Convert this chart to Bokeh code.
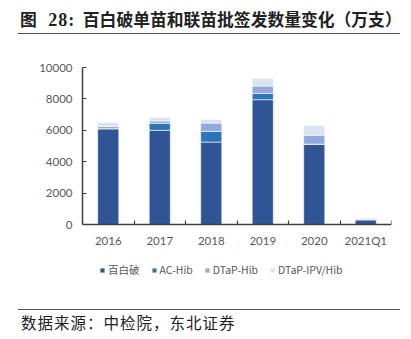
from bokeh.plotting import figure
from bokeh.models import (Range1d, FixedTicker, NumeralTickFormatter, Legend,
                          LegendItem, Div, ColumnDataSource)
from bokeh.layouts import column
from bokeh.embed import file_html
from bokeh.resources import INLINE

# ---- data ----
categories = ["2016", "2017", "2018", "2019", "2020", "2021Q1"]
series_names = ["百白破", "AC-Hib", "DTaP-Hib", "DTaP-IPV/Hib"]
baibaipo = [6100, 6000, 5250, 7950, 5120, 290]
ac_hib = [0, 450, 680, 400, 0, 30]
dtap_hib = [150, 150, 530, 470, 570, 50]
dtap_ipv_hib = [250, 230, 230, 490, 620, 60]
y_ticks = [0, 2000, 4000, 6000, 8000, 10000]

colors = ["#2F5597", "#2E75B6", "#8FAADC", "#DAE3F3"]
keys = ["s0", "s1", "s2", "s3"]

xpos = [i + 0.5 for i in range(len(categories))]
src = ColumnDataSource(dict(x=xpos, s0=baibaipo, s1=ac_hib, s2=dtap_hib, s3=dtap_ipv_hib))

# frame: 157 px for 0..10000, extra room below 0 for labels and legend
frame_h = 228
y_top = 10000
y_bottom = -(frame_h / 157.0 * y_top - y_top)

p = figure(width=411, height=264, output_backend="svg", toolbar_location=None,
           x_range=Range1d(0, len(categories)), y_range=Range1d(y_bottom, y_top),
           min_border_left=82, min_border_right=20, min_border_top=31, min_border_bottom=5)
p.outline_line_color = None
p.xgrid.visible = False
p.ygrid.visible = False

rs = p.vbar_stack(keys, x="x", width=0.41, source=src, color=colors,
                  line_color="white", line_width=0.6)

axis_color = "#404040"
lab_color = "#595959"

# x axis: sits at y=0, labels at centres, small ticks at category boundaries
xa = p.xaxis[0]
xa.fixed_location = 0
xa.ticker = FixedTicker(ticks=xpos, minor_ticks=list(range(len(categories) + 1)))
xa.major_label_overrides = {x: c for x, c in zip(xpos, categories)}
xa.major_tick_in = 0
xa.major_tick_out = 0
xa.minor_tick_in = 4
xa.minor_tick_out = 0
xa.minor_tick_line_color = axis_color
xa.minor_tick_line_width = 1.2
xa.axis_line_color = axis_color
xa.axis_line_width = 1.5
xa.major_label_text_color = lab_color
xa.major_label_text_font = "Lato"
xa.major_label_text_font_size = "11.5px"
xa.major_label_standoff = 9

ya = p.yaxis[0]
ya.bounds = (0, y_top)
ya.ticker = FixedTicker(ticks=y_ticks)
ya.formatter = NumeralTickFormatter(format="0")
ya.major_tick_in = 4
ya.major_tick_out = 0
ya.minor_tick_line_color = None
ya.major_tick_line_color = axis_color
ya.major_tick_line_width = 1.2
ya.axis_line_color = axis_color
ya.axis_line_width = 1.5
ya.major_label_text_color = lab_color
ya.major_label_text_font = "Lato"
ya.major_label_text_font_size = "11.5px"
ya.major_label_standoff = 10

legend = Legend(items=[LegendItem(label=n, renderers=[r]) for n, r in zip(series_names, rs)],
                orientation="horizontal", location=(17, 18),
                glyph_width=6, glyph_height=6, label_height=12, label_standoff=3,
                spacing=11, padding=0, margin=0, border_line_color=None,
                background_fill_alpha=0, label_text_font="Noto Sans CJK SC",
                label_text_font_size="10.5px", label_text_color=lab_color)
p.add_layout(legend, "center")

title = Div(width=411, height=36, margin=0, text=(
    "<div style=\"margin-left:18px;width:382px;height:34px;box-sizing:border-box;"
    "border-bottom:1.5px solid #555;padding-top:11px;padding-left:2px;line-height:1;"
    "font-family:'Noto Sans CJK SC';font-weight:bold;font-size:16.8px;color:#222;white-space:nowrap\">"
    "图&nbsp;&nbsp;&nbsp;<span style=\"font-family:'Liberation Serif';font-size:18px;letter-spacing:1px\">28:</span>&nbsp;&nbsp;"
    "百白破单苗和联苗批签发数量变化（万支）</div>"))

source = Div(width=411, height=39, margin=0, text=(
    "<div style=\"margin-left:18px;width:382px;margin-top:9px;box-sizing:border-box;"
    "border-top:1.5px solid #555;padding-top:3px;padding-left:3px;line-height:1.2;"
    "font-family:'Noto Sans CJK SC';font-size:15.5px;letter-spacing:1px;color:#222;white-space:nowrap\">"
    "数据来源：中检院，东北证券</div>"))

layout = column(title, p, source, spacing=0, margin=0)
open("out.html", "w").write(file_html(layout, INLINE))
